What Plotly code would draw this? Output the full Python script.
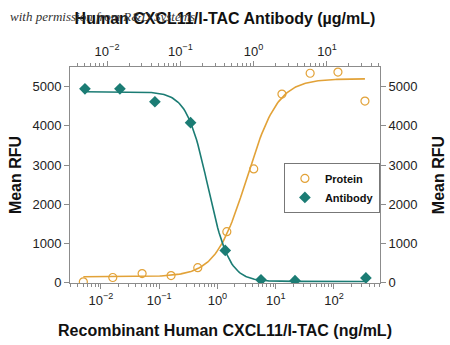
import numpy as np
import plotly.graph_objects as go

# Recombinant protein dose (ng/mL) and response
protein_conc = [0.005, 0.016, 0.051, 0.16, 0.46, 1.45, 4.2, 12.8, 39, 117, 340]
protein_rfu = [20, 130, 230, 180, 380, 1300, 2900, 4810, 5340, 5370, 4630]

# Neutralizing antibody dose (ug/mL) and response
antibody_conc = [0.005, 0.015, 0.045, 0.138, 0.41, 1.26, 3.67, 34]
antibody_rfu = [4944, 4944, 4613, 4079, 822, 70, 50, 120]

# Four-parameter logistic fits: response at low dose, at high dose, log10 EC50, Hill slope
protein_fit = dict(low=150, high=5200, log_ec50=0.506, hill=1.625)
antibody_fit = dict(low=4870, high=30, log_ec50=-0.624, hill=3.03)

tick_exponents = [-2, -1, 0, 1, 2]
top_tick_exponents = [-2, -1, 0, 1]
y_ticks = [0, 1000, 2000, 3000, 4000, 5000]

ORANGE = "#E2A238"
TEAL = "#1B7C74"
AXIS = "#8c8c8c"
FONT = "Liberation Sans, Arial, sans-serif"


def logistic(x, low, high, log_ec50, hill):
    return low + (high - low) / (1 + 10 ** (hill * (log_ec50 - np.log10(x))))


def pow_label(e):
    return "10<sup>%s</sup>" % ("\u2212%d" % -e if e < 0 else "%d" % e)


def minor_vals(lo, hi):
    return [m * 10.0 ** e for e in range(lo, hi) for m in range(2, 10)]


px = np.logspace(np.log10(min(protein_conc)), np.log10(max(protein_conc)), 200)
ax_ = np.logspace(np.log10(min(antibody_conc)), np.log10(max(antibody_conc)), 200)

fig = go.Figure()
fig.add_trace(go.Scatter(x=px, y=logistic(px, **protein_fit), mode="lines",
                         line=dict(color=ORANGE, width=1.6), showlegend=False,
                         xaxis="x", yaxis="y"))
fig.add_trace(go.Scatter(x=ax_, y=logistic(ax_, **antibody_fit), mode="lines",
                         line=dict(color=TEAL, width=1.6), showlegend=False,
                         xaxis="x2", yaxis="y"))
fig.add_trace(go.Scatter(x=protein_conc, y=protein_rfu, mode="markers", name="Protein",
                         marker=dict(symbol="circle-open", size=8, color=ORANGE,
                                     line=dict(width=1.2, color=ORANGE)),
                         xaxis="x", yaxis="y"))
fig.add_trace(go.Scatter(x=antibody_conc, y=antibody_rfu, mode="markers", name="Antibody",
                         marker=dict(symbol="diamond", size=9, color=TEAL),
                         xaxis="x2", yaxis="y"))
# Keeps the right-hand y-axis drawn
fig.add_trace(go.Scatter(x=[None], y=[None], yaxis="y2", xaxis="x", showlegend=False))

tickfont = dict(family=FONT, size=13, color="#222")
titlefont = dict(family=FONT, size=16, color="#111", weight="bold")

common_x = dict(type="log", showgrid=False, zeroline=False, showline=True,
                linecolor=AXIS, linewidth=1, ticks="outside", ticklen=5,
                tickcolor=AXIS, tickfont=tickfont, automargin=False)

fig.update_layout(
    width=450, height=345,
    margin=dict(l=70, r=70, t=67, b=62),
    paper_bgcolor="white", plot_bgcolor="white",
    font=dict(family=FONT),
    xaxis=dict(**common_x, range=[-2.53, 2.79], side="bottom",
               tickvals=[10.0 ** e for e in tick_exponents],
               ticktext=[pow_label(e) for e in tick_exponents],
               minor=dict(ticks="outside", ticklen=3, tickcolor=AXIS,
                          tickmode="array", tickvals=minor_vals(-3, 3)),
               title=dict(text="Recombinant Human CXCL11/I-TAC (ng/mL)", font=titlefont,
                          standoff=18)),
    xaxis2=dict(**common_x, range=[-2.505, 1.724], side="top", overlaying="x",
                anchor="y",
                tickvals=[10.0 ** e for e in top_tick_exponents],
                ticktext=[pow_label(e) for e in top_tick_exponents],
                minor=dict(ticks="outside", ticklen=3, tickcolor=AXIS,
                           tickmode="array", tickvals=minor_vals(-3, 2)),
                title=dict(text="Human CXCL11/I-TAC Antibody (\u00b5g/mL)", font=titlefont,
                           standoff=13)),
    yaxis=dict(range=[-10, 5500], tickvals=y_ticks, showgrid=False, zeroline=False,
               showline=True, linecolor=AXIS, ticks="outside", ticklen=5, tickcolor=AXIS,
               tickfont=tickfont, automargin=False,
               title=dict(text="Mean RFU", font=titlefont, standoff=6)),
    yaxis2=dict(range=[-10, 5500], tickvals=y_ticks, overlaying="y", side="right",
                anchor="x", showgrid=False, zeroline=False, showline=True,
                linecolor=AXIS, ticks="outside", ticklen=5, tickcolor=AXIS,
                tickfont=tickfont, automargin=False,
                title=dict(text="Mean RFU", font=titlefont, standoff=16)),
    legend=dict(x=0.69, y=0.556, xanchor="left", yanchor="top",
                bgcolor="white", bordercolor="#777", borderwidth=1,
                font=dict(family=FONT, size=11, color="#111", weight="bold"),
                tracegroupgap=0, itemwidth=30),
    annotations=[dict(text="with permission from R&amp;D Systems", xref="paper", yref="paper",
                      x=-0.2, y=1.235, xanchor="left", yanchor="middle", showarrow=False,
                      font=dict(family="Liberation Serif, DejaVu Serif, serif", size=13,
                                color="#333", style="italic"))],
)

fig.write_html("out.html")
